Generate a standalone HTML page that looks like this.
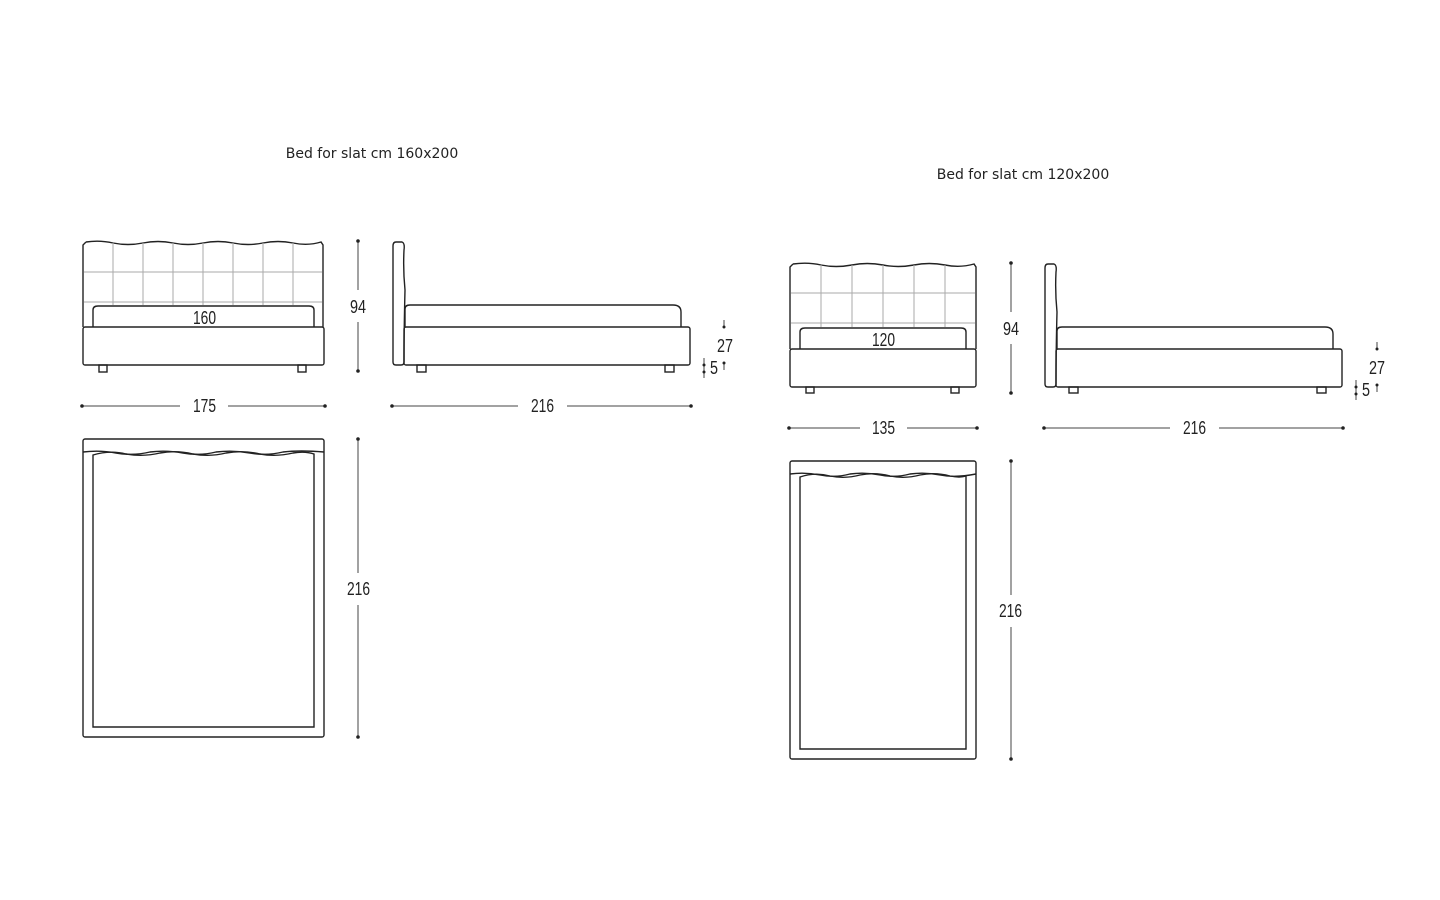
<!DOCTYPE html>
<html><head><style>
html,body{margin:0;padding:0;background:#fff;}
svg{display:block;}
text{font-family:"Liberation Sans Narrow","Liberation Sans",sans-serif;fill:#222;}
.t{font-size:15px;font-family:"DejaVu Sans","Liberation Sans",sans-serif;font-size:14px;}
.d{font-size:18px;}
</style></head><body>
<svg width="1440" height="900" viewBox="0 0 1440 900" xmlns="http://www.w3.org/2000/svg">
<g fill="none" stroke="#222" stroke-width="1.4">
<path d="M86 242 Q100 240 113 243 Q128 246 143 243 Q158 240 173 243 Q188 246 203 243 Q218 240 233 243 Q248 246 263 243 Q278 240 293 243 Q308 246 321 242 L323 245 L323 327 M83 327 L83 245 L86 242"/>
<g stroke="#aaa" stroke-width="1"><path d="M113 243 V305 M143 243 V305 M173 243 V305 M203 243 V305 M233 243 V305 M263 243 V305 M293 243 V305 M84 272 H322 M84 302 H322"/></g>
<path d="M93 327 V310 Q93 306 98 306 H309 Q314 306 314 310 V327"/>
<rect x="83" y="327" width="241" height="38" rx="2"/>
<rect x="99" y="365" width="8" height="7"/><rect x="298" y="365" width="8" height="7"/>
<path d="M396 242 H402 Q405 243 404 250 Q403 270 405 290 Q404 330 404 362 Q404 365 401 365 H396 Q393 365 393 362 V246 Q393 242 396 242 Z"/>
<path d="M405 327 V309 Q405 305 410 305 H673 Q681 305 681 312 V327"/>
<rect x="404" y="327" width="286" height="38" rx="2"/>
<rect x="417" y="365" width="9" height="7"/><rect x="665" y="365" width="9" height="7"/>
<rect x="83" y="439" width="241" height="298" rx="2"/>
<path d="M93 727 V455 Q110 450 126 454 Q143 457 160 453 Q176 450 193 454 Q210 457 226 453 Q243 450 260 454 Q276 457 293 453 Q305 451 314 454 V727 Z"/>
<path d="M83 452 Q100 450 116 453 Q133 456 150 452 Q166 450 183 453 Q200 456 216 452 Q233 450 250 453 Q266 456 283 452 Q300 450 324 452"/>

<path d="M793 264 Q808 262 821 265 Q836 268 852 265 Q867 262 883 265 Q898 268 914 265 Q929 262 945 265 Q960 268 974 264 L976 267 L976 349 M790 349 L790 267 L793 264"/>
<g stroke="#aaa" stroke-width="1"><path d="M821 265 V327 M852 265 V327 M883 265 V327 M914 265 V327 M945 265 V327 M791 293 H975 M791 323 H975"/></g>
<path d="M800 349 V332 Q800 328 805 328 H961 Q966 328 966 332 V349"/>
<rect x="790" y="349" width="186" height="38" rx="2"/>
<rect x="806" y="387" width="8" height="6"/><rect x="951" y="387" width="8" height="6"/>
<path d="M1048 264 H1054 Q1057 265 1056 272 Q1055 292 1057 312 Q1056 352 1056 384 Q1056 387 1053 387 H1048 Q1045 387 1045 384 V268 Q1045 264 1048 264 Z"/>
<path d="M1057 349 V331 Q1057 327 1062 327 H1325 Q1333 327 1333 334 V349"/>
<rect x="1056" y="349" width="286" height="38" rx="2"/>
<rect x="1069" y="387" width="9" height="6"/><rect x="1317" y="387" width="9" height="6"/>
<rect x="790" y="461" width="186" height="298" rx="2"/>
<path d="M800 749 V477 Q815 472 830 476 Q845 479 860 475 Q875 472 890 476 Q905 479 920 475 Q935 472 950 476 Q960 478 966 476 V749 Z"/>
<path d="M790 474 Q805 472 820 475 Q835 478 850 474 Q865 472 880 475 Q895 478 910 474 Q925 472 940 475 Q955 478 976 474"/>
</g>

<g stroke="#444" stroke-width="1">
<path d="M358 241 V290 M358 322 V371"/>
<path d="M82 406 H180 M228 406 H325"/>
<path d="M392 406 H518 M567 406 H691"/>
<path d="M358 439 V573 M358 605 V737"/>
<path d="M1011 263 V312 M1011 344 V393"/>
<path d="M789 428 H860 M907 428 H977"/>
<path d="M1044 428 H1170 M1219 428 H1343"/>
<path d="M1011 461 V595 M1011 627 V759"/>
<path d="M724 320 V326 M704 358 V378 M724 364 V370 M1377 342 V348 M1356 380 V400 M1377 386 V392"/>
</g>
<g fill="#222">
<circle cx="358" cy="241" r="1.8"/><circle cx="358" cy="371" r="1.8"/>
<circle cx="82" cy="406" r="1.8"/><circle cx="325" cy="406" r="1.8"/>
<circle cx="392" cy="406" r="1.8"/><circle cx="691" cy="406" r="1.8"/>
<circle cx="358" cy="439" r="1.8"/><circle cx="358" cy="737" r="1.8"/>
<circle cx="1011" cy="263" r="1.8"/><circle cx="1011" cy="393" r="1.8"/>
<circle cx="789" cy="428" r="1.8"/><circle cx="977" cy="428" r="1.8"/>
<circle cx="1044" cy="428" r="1.8"/><circle cx="1343" cy="428" r="1.8"/>
<circle cx="1011" cy="461" r="1.8"/><circle cx="1011" cy="759" r="1.8"/>
<circle cx="724" cy="327" r="1.5"/><circle cx="704" cy="365" r="1.5"/><circle cx="704" cy="372" r="1.5"/><circle cx="724" cy="363" r="1.5"/>
<circle cx="1377" cy="349" r="1.5"/><circle cx="1356" cy="387" r="1.5"/><circle cx="1356" cy="394" r="1.5"/><circle cx="1377" cy="385" r="1.5"/>
</g>

<text class="t" x="372" y="158" text-anchor="middle">Bed for slat cm 160x200</text>
<text class="t" x="1023" y="179" text-anchor="middle">Bed for slat cm 120x200</text>
<g class="d">
<text x="193" y="324" textLength="23" lengthAdjust="spacingAndGlyphs">160</text>
<text x="350" y="313" textLength="16" lengthAdjust="spacingAndGlyphs">94</text>
<text x="193" y="412" textLength="23" lengthAdjust="spacingAndGlyphs">175</text>
<text x="531" y="412" textLength="23" lengthAdjust="spacingAndGlyphs">216</text>
<text x="717" y="352" textLength="16" lengthAdjust="spacingAndGlyphs">27</text>
<text x="710" y="374" textLength="8" lengthAdjust="spacingAndGlyphs">5</text>
<text x="347" y="595" textLength="23" lengthAdjust="spacingAndGlyphs">216</text>
<text x="872" y="346" textLength="23" lengthAdjust="spacingAndGlyphs">120</text>
<text x="1003" y="335" textLength="16" lengthAdjust="spacingAndGlyphs">94</text>
<text x="872" y="434" textLength="23" lengthAdjust="spacingAndGlyphs">135</text>
<text x="1183" y="434" textLength="23" lengthAdjust="spacingAndGlyphs">216</text>
<text x="1369" y="374" textLength="16" lengthAdjust="spacingAndGlyphs">27</text>
<text x="1362" y="396" textLength="8" lengthAdjust="spacingAndGlyphs">5</text>
<text x="999" y="617" textLength="23" lengthAdjust="spacingAndGlyphs">216</text>
</g>
</svg>
</body></html>
